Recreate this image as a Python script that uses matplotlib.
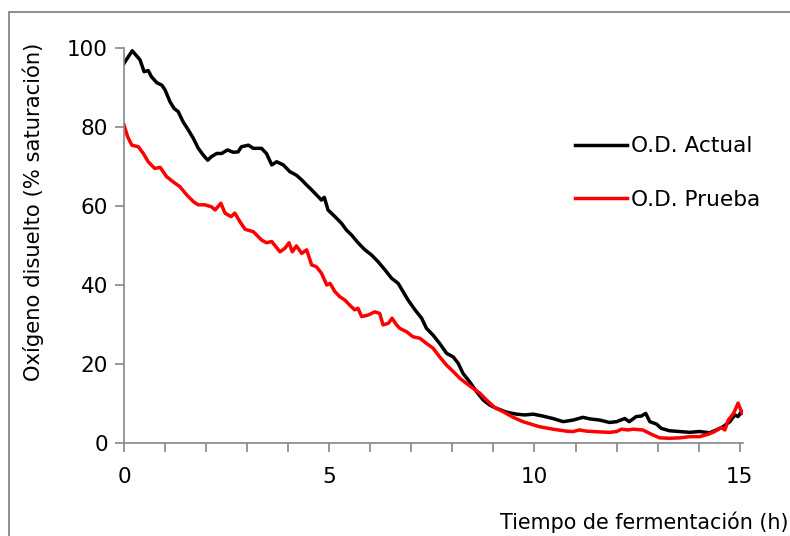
import matplotlib
matplotlib.use("Agg")
import matplotlib.pyplot as plt
from matplotlib.patches import Rectangle

# datos
t_actual = [0.0, 0.2, 0.39, 0.49, 0.59, 0.67, 0.8, 0.92, 1.0, 1.12, 1.22, 1.32, 1.44, 1.57, 1.69,
            1.81, 1.93, 2.04, 2.13, 2.26, 2.38, 2.52, 2.66, 2.78, 2.86, 3.03, 3.15, 3.35, 3.47, 3.6,
            3.72, 3.88, 4.04, 4.2, 4.33, 4.45, 4.57, 4.69, 4.81, 4.88, 4.97, 5.14, 5.30, 5.42, 5.54,
            5.71, 5.87, 6.03, 6.19, 6.36, 6.52, 6.68, 6.8, 6.92, 7.09, 7.25, 7.37, 7.53, 7.69, 7.86,
            8.02, 8.14, 8.26, 8.42, 8.59, 8.75, 8.91, 9.07, 9.32, 9.56, 9.76, 9.97, 10.21, 10.45, 10.70,
            10.94, 11.18, 11.35, 11.59, 11.83, 12.0, 12.2, 12.31, 12.48, 12.6, 12.71, 12.81, 12.97, 13.09, 13.29,
            13.54, 13.78, 14.02, 14.27, 14.43, 14.59, 14.76, 14.88, 14.96, 15.04]
od_actual = [96.1, 99.3, 97.0, 94.0, 94.3, 92.7, 91.2, 90.6, 89.4, 86.4, 84.7, 83.9, 81.3, 79.2, 77.1,
             74.6, 72.9, 71.6, 72.5, 73.3, 73.3, 74.2, 73.6, 73.7, 75.0, 75.4, 74.6, 74.6, 73.3, 70.4,
             71.2, 70.4, 68.7, 67.8, 66.6, 65.3, 64.1, 62.8, 61.5, 62.2, 59.0, 57.3, 55.6, 53.9, 52.7,
             50.6, 48.9, 47.6, 45.9, 43.8, 41.7, 40.4, 38.3, 36.2, 33.7, 31.6, 29.0, 27.3, 25.2, 22.7,
             21.8, 20.2, 17.6, 15.5, 13.0, 10.9, 9.6, 8.8, 7.8, 7.3, 7.1, 7.3, 6.8, 6.2, 5.4,
             5.8, 6.5, 6.1, 5.8, 5.2, 5.4, 6.2, 5.4, 6.7, 6.8, 7.5, 5.4, 4.8, 3.7, 3.1,
             2.9, 2.7, 2.9, 2.6, 3.3, 4.1, 5.4, 7.1, 6.7, 7.9]

t_prueba = [0.0, 0.09, 0.19, 0.35, 0.47, 0.59, 0.75, 0.88, 1.04, 1.2, 1.36, 1.53, 1.69, 1.81, 1.97,
            2.13, 2.22, 2.36, 2.46, 2.61, 2.70, 2.82, 2.95, 3.15, 3.35, 3.47, 3.6, 3.80, 3.92, 4.02,
            4.10, 4.20, 4.33, 4.45, 4.57, 4.69, 4.81, 4.94, 5.02, 5.14, 5.26, 5.38, 5.50, 5.62, 5.70,
            5.79, 5.95, 6.11, 6.23, 6.31, 6.44, 6.53, 6.64, 6.72, 6.88, 7.04, 7.21, 7.37, 7.53, 7.69,
            7.86, 8.02, 8.18, 8.34, 8.51, 8.67, 8.83, 9.03, 9.24, 9.48, 9.72, 9.97, 10.13, 10.45, 10.78,
            10.94, 11.09, 11.27, 11.59, 11.83, 12.0, 12.12, 12.28, 12.4, 12.64, 12.85, 13.05, 13.29, 13.54,
            13.78, 14.02, 14.23, 14.39, 14.55, 14.64, 14.72, 14.85, 14.96, 15.06]
od_prueba = [80.5, 77.5, 75.4, 75.0, 73.3, 71.2, 69.5, 69.8, 67.4, 66.1, 64.9, 62.8, 61.1, 60.3, 60.3,
             59.8, 59.0, 60.7, 58.2, 57.3, 58.2, 56.1, 54.1, 53.5, 51.4, 50.7, 51.0, 48.4, 49.3, 50.7,
             48.4, 49.9, 48.0, 48.9, 45.1, 44.6, 43.0, 40.0, 40.4, 38.3, 37.0, 36.2, 34.9, 33.7, 34.1,
             32.0, 32.4, 33.2, 32.8, 29.9, 30.3, 31.6, 29.9, 29.0, 28.2, 26.9, 26.5, 25.2, 24.0, 21.8,
             19.7, 18.1, 16.4, 15.1, 13.8, 12.6, 10.9, 9.0, 7.9, 6.5, 5.4, 4.6, 4.1, 3.5, 3.0,
             2.9, 3.3, 3.0, 2.8, 2.7, 2.9, 3.5, 3.3, 3.5, 3.3, 2.2, 1.3, 1.2, 1.3,
             1.6, 1.6, 2.2, 2.9, 3.9, 3.3, 5.8, 7.5, 10.1, 7.5]

x_ticks = list(range(0, 16))
x_labels = ["0", "", "", "", "", "5", "", "", "", "", "10", "", "", "", "", "15"]
y_ticks = [0, 20, 40, 60, 80, 100]

plt.rcParams['font.family'] = ['DejaVu Sans']
gris = "#868686"

fig = plt.figure(figsize=(7.9, 5.36), dpi=100)
ax = fig.add_axes([124 / 790, 93 / 536, (743 - 124) / 790, (443 - 48) / 536])

ax.plot(t_actual, od_actual, color="black", lw=2.5, label="O.D. Actual")
ax.plot(t_prueba, od_prueba, color="#ff0000", lw=2.5, label="O.D. Prueba")

ax.set_xlim(0, 15.08)
ax.set_ylim(0, 100)
ax.set_xticks(x_ticks)
ax.set_xticklabels(x_labels)
ax.set_yticks(y_ticks)

for s in ["top", "right"]:
    ax.spines[s].set_visible(False)
for s in ["left", "bottom"]:
    ax.spines[s].set_color(gris)
    ax.spines[s].set_linewidth(1.2)
ax.tick_params(axis="both", colors=gris, length=6.5, width=1.2, labelsize=15.5, labelcolor="black")
ax.tick_params(axis="x", pad=11)
ax.tick_params(axis="y", pad=5)

ax.set_ylabel("Oxígeno disuelto (% saturación)", fontsize=15.2)
ax.yaxis.set_label_coords(-0.13, 0.585)

fig.text(500 / 790, 1 - 522 / 536, "Tiempo de fermentación (h)", fontsize=14.9,
         ha="left", va="center")

fig.legend(loc="center left", bbox_to_anchor=(575 / 790, 1 - 173 / 536), frameon=False,
           fontsize=15.6, handlelength=2.4, handletextpad=0.2, labelspacing=1.55,
           borderpad=0, borderaxespad=0)

# marco exterior
fig.patches.append(Rectangle((9 / 790, -0.1), 1.1, 1 - 12 / 536 + 0.1, transform=fig.transFigure,
                             fill=False, edgecolor=gris, lw=1.3))

fig.savefig("out.png", dpi=100)
